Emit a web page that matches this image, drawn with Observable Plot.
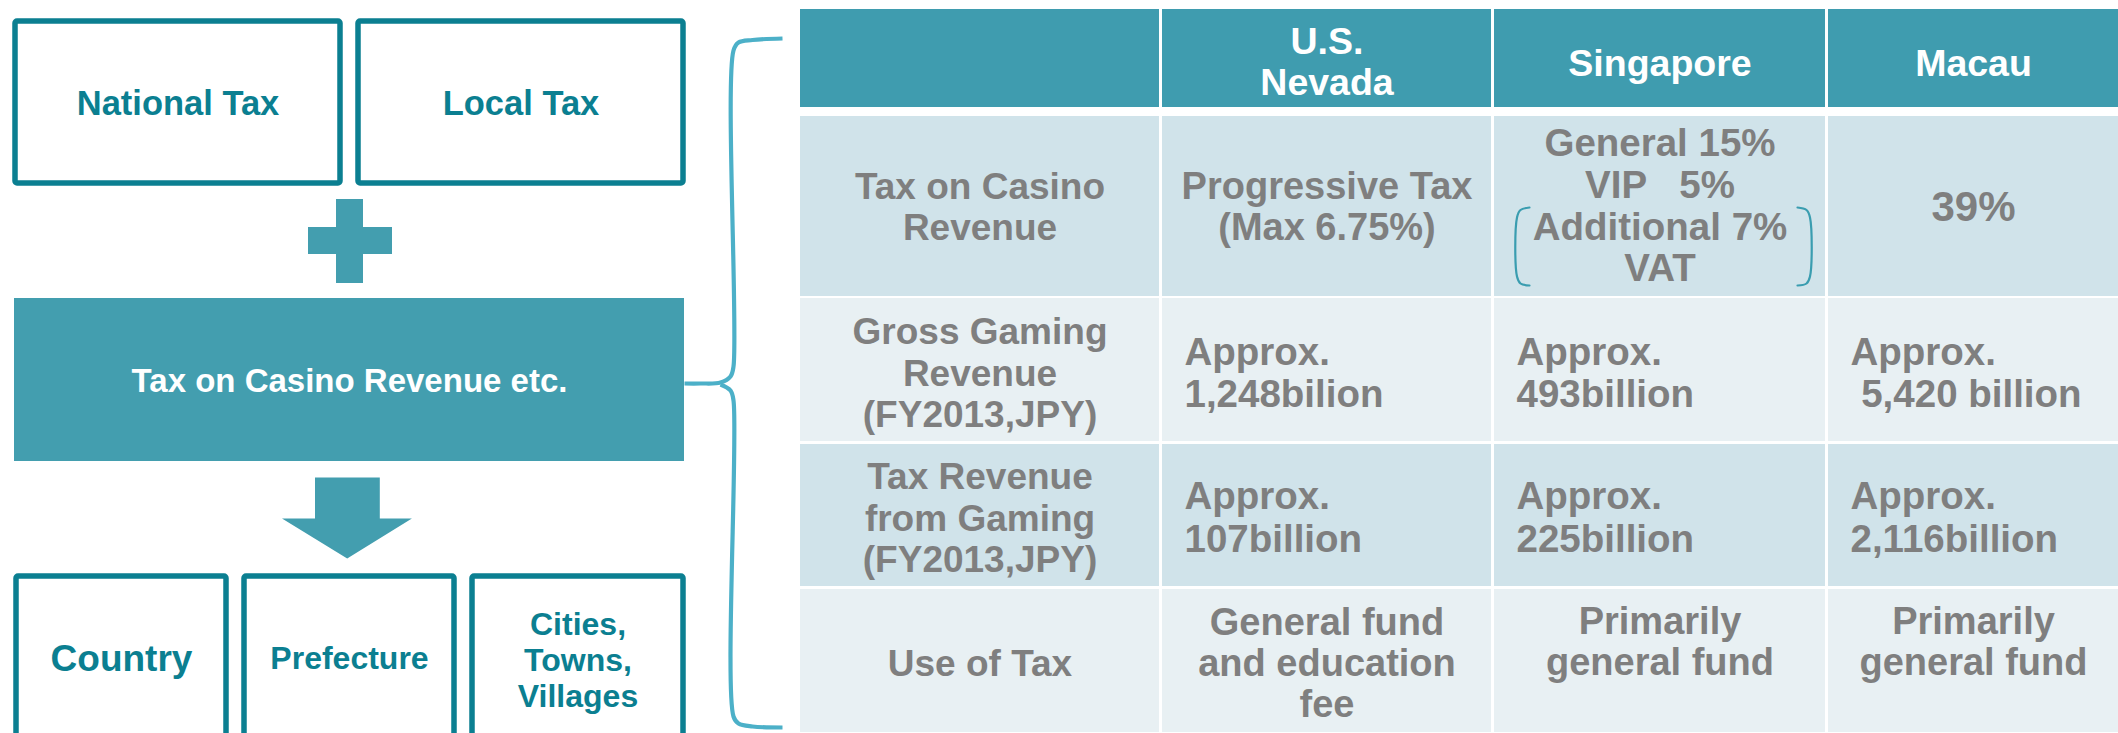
<!DOCTYPE html>
<html><head><meta charset="utf-8">
<script src="https://cdn.jsdelivr.net/npm/d3@7"></script>
<script src="https://cdn.jsdelivr.net/npm/@observablehq/plot@0.6"></script>
<style>html,body{margin:0;padding:0;background:#fff;} #chart{width:2118px;height:733px;overflow:hidden;}</style>
</head><body><div id="chart"></div>
<script>
// ---------- data (texts) ----------
const taxSources = ["National Tax", "Local Tax"];
const poolLabel = ["Tax on Casino Revenue etc."];
const recipients = ["Country", "Prefecture", "Cities,\nTowns,\nVillages"];
const regions = ["", "U.S.\nNevada", "Singapore", "Macau"];
const items = ["Tax on Casino\nRevenue", "Gross Gaming\nRevenue\n(FY2013,JPY)", "Tax Revenue\nfrom Gaming\n(FY2013,JPY)", "Use of Tax"];
const casinoTax = ["Progressive Tax\n(Max 6.75%)", "General 15%\nVIP\u00a0\u00a0\u00a05%\nAdditional 7%\nVAT", "39%"];
const grossRevenue = ["Approx.\n1,248bilion", "Approx.\n493billion", "Approx.\n\u00a05,420 billion"];
const taxRevenue = ["Approx.\n107billion", "Approx.\n225billion", "Approx.\n2,116billion"];
const taxUse = ["General fund\nand education\nfee", "Primarily\ngeneral fund", "Primarily\ngeneral fund"];

// ---------- layout (positions / styles) ----------
const W = 2118, H = 733;
const dark = "#0b7f91", mid = "#439eaf", head = "#3f9caf", braceCol = "#4cb0c8", grey = "#7f7f7f";
const rowFills = ["#d0e3ea", "#e8f0f3", "#d0e3ea", "#e8f0f3"];
const topBoxX = [[15, 340], [358, 683]], topBoxY = [21, 183];
const botBoxX = [[16, 226], [244, 454], [472, 683]], botBoxY = [576, 760];
const poolBox = {x1: 14, x2: 684, y1: 298, y2: 461};
const plusBars = [{x1: 336, x2: 363, y1: 199, y2: 283}, {x1: 308, x2: 392, y1: 227, y2: 254}];
const arrowPts = [[314.5,477],[379.3,477],[379.3,518],[411.4,518],[346.7,558],[281.5,518],[314.5,518]];
const bracePts = [
  [[782,38],[752,39.5],[738,42],[733,50],[733,366],[730,376],[720,382],[700,383],[684,383]],
  [[720,384],[730,390],[733,400],[733,716],[738,723],[752,726],[782,727]]
];
const sgBracket = [
  [[1529,207],[1520,209.5],[1516.5,217],[1516.5,276],[1520,283],[1529,285]],
  [[1797,207],[1806,209.5],[1809.5,217],[1809.5,276],[1806,283],[1797,285]]
];
const colEdges = [[800, 1159], [1162, 1491], [1494, 1825], [1828, 2118]];
const rowEdges = [[9, 107], [116, 296], [298, 441], [444, 586], [589, 732]];
const colCenter = colEdges.map(([a, b]) => (a + b) / 2);
const rowTextY = [[206, 206, 205, 206], [372, 372, 372, 372], [517, 516.5, 516.5, 516.5], [662, 662, 641, 641]];
const leftAligned = [false, true, true, false];
const valueSize = [[38, 38.5, 42], [38.5, 38.5, 38.5], [38.5, 38.5, 38.5], [38, 38, 38]];

// ---------- build tables ----------
const cells = [];
rowEdges.forEach(([y1, y2], r) => colEdges.forEach(([x1, x2], c) =>
  cells.push({x1, x2, y1, y2, fill: r === 0 ? head : rowFills[r - 1]})));
const headerTexts = regions.map((t, i) => ({text: t, x: colCenter[i], y: i === 1 ? 61 : 62})).filter(d => d.text);
const labelTexts = items.map((t, r) => ({text: t, x: colCenter[0], y: rowTextY[r][0]}));
const rowValues = [casinoTax, grossRevenue, taxRevenue, taxUse];
const valueTexts = [];
rowValues.forEach((vals, r) => vals.forEach((t, c) => valueTexts.push({
  text: t, left: leftAligned[r], size: valueSize[r][c],
  x: leftAligned[r] ? colEdges[c + 1][0] + 22 : colCenter[c + 1],
  y: rowTextY[r][c + 1]
})));
const topBoxes = taxSources.map((t, i) => ({text: t, x1: topBoxX[i][0], x2: topBoxX[i][1], y1: topBoxY[0], y2: topBoxY[1]}));
const botBoxes = recipients.map((t, i) => ({text: t, x1: botBoxX[i][0], x2: botBoxX[i][1], y1: botBoxY[0], y2: botBoxY[1]}));
const braceRows = bracePts.flatMap((pts, k) => pts.map(p => ({x: p[0], y: p[1], k})));
const sgRows = sgBracket.flatMap((pts, k) => pts.map(p => ({x: p[0], y: p[1], k})));
const arrowRows = arrowPts.map(p => ({x: p[0], y: p[1]}));

const font = "'Liberation Sans', Arial, sans-serif";
const chart = Plot.plot({
  width: W, height: H, margin: 0,
  x: {domain: [0, W], range: [0, W], axis: null},
  y: {domain: [0, H], range: [0, H], axis: null},
  style: {fontFamily: font, background: "white", overflow: "hidden"},
  marks: [
    // left diagram
    Plot.rect(topBoxes, {x1: "x1", x2: "x2", y1: "y1", y2: "y2", fill: "white", stroke: dark, strokeWidth: 5.5, rx: 2}),
    Plot.text(topBoxes, {x: d => (d.x1 + d.x2) / 2, y: 103, text: "text", fontSize: 34.5, fontWeight: "bold", fill: dark}),
    Plot.rect(plusBars, {x1: "x1", x2: "x2", y1: "y1", y2: "y2", fill: mid}),
    Plot.rect([poolBox], {x1: "x1", x2: "x2", y1: "y1", y2: "y2", fill: mid}),
    Plot.text(poolLabel, {x: (poolBox.x1 + poolBox.x2) / 2, y: 381, text: d => d, fontSize: 33, fontWeight: "bold", fill: "white"}),
    Plot.line(arrowRows, {x: "x", y: "y", fill: mid, stroke: "none", curve: "linear-closed"}),
    Plot.rect(botBoxes, {x1: "x1", x2: "x2", y1: "y1", y2: "y2", fill: "white", stroke: dark, strokeWidth: 5.5, rx: 2}),
    Plot.text(botBoxes, {x: d => (d.x1 + d.x2) / 2, y: (d, i) => [657, 657, 659][i], text: "text",
      fontSize: (d, i) => i === 0 ? 37 : 32, fontWeight: "bold", fill: dark, lineHeight: 1.13}),
    // brace
    Plot.line(braceRows, {x: "x", y: "y", z: "k", stroke: braceCol, strokeWidth: 4.2, curve: "catmull-rom", strokeLinecap: "butt"}),
    // table
    Plot.rect(cells, {x1: "x1", x2: "x2", y1: "y1", y2: "y2", fill: "fill"}),
    Plot.text(headerTexts, {x: "x", y: "y", text: "text", fontSize: 37.5, fontWeight: "bold", fill: "white", lineHeight: 1.09}),
    Plot.text(labelTexts, {x: "x", y: "y", text: "text", fontSize: 37, fontWeight: "bold", fill: grey, lineHeight: 1.12}),
    Plot.text(valueTexts.filter(d => !d.left), {x: "x", y: "y", text: "text", fontSize: "size", fontWeight: "bold", fill: grey, lineHeight: 1.08}),
    Plot.text(valueTexts.filter(d => d.left), {x: "x", y: "y", text: "text", fontSize: "size", fontWeight: "bold", fill: grey, lineHeight: 1.1, textAnchor: "start"}),
    Plot.line(sgRows, {x: "x", y: "y", z: "k", stroke: "#3a9db0", strokeWidth: 2.2, curve: "catmull-rom"})
  ]
});
document.getElementById("chart").appendChild(chart);
</script>
</body></html>
